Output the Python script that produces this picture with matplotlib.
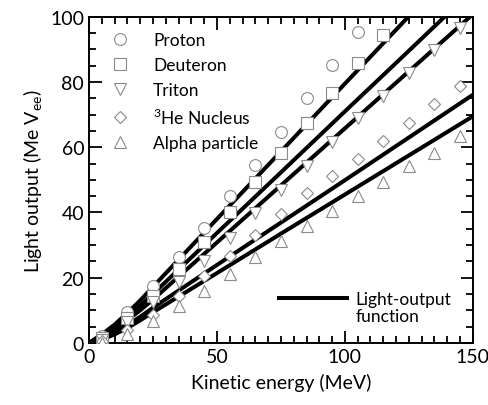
import numpy as np
import matplotlib
matplotlib.use("Agg")
import matplotlib.pyplot as plt
from matplotlib.lines import Line2D
from matplotlib.ticker import MultipleLocator

plt.rcParams['font.family'] = ['Lato', 'DejaVu Sans']
plt.rcParams['mathtext.fontset'] = 'custom'
plt.rcParams['mathtext.rm'] = 'Lato'

# measured light output (MeVee) vs kinetic energy (MeV)
e_proton = [5, 15, 25, 35, 45, 55, 65, 75, 85, 95, 105]
l_proton = [2.2, 9.4, 17.5, 26.2, 35.3, 44.9, 54.5, 64.6, 75.1, 85.3, 95.4]

e_deuteron = [5, 15, 25, 35, 45, 55, 65, 75, 85, 95, 105, 115]
l_deuteron = [1.5, 7.5, 14.5, 22.6, 31.0, 40.0, 49.2, 58.1, 67.5, 76.7, 85.8, 94.5]

e_triton = [5, 15, 25, 35, 45, 55, 65, 75, 85, 95, 105, 115, 125, 135, 145]
l_triton = [1.0, 6.3, 12.4, 18.6, 25.2, 32.3, 39.7, 46.9, 54.2, 61.6, 69.0, 75.6, 82.8, 89.7, 96.5]

e_he3 = [5, 15, 25, 35, 45, 55, 65, 75, 85, 95, 105, 115, 125, 135, 145]
l_he3 = [0.5, 3.8, 8.4, 14.5, 20.6, 26.7, 33.1, 39.4, 45.9, 51.2, 56.3, 61.9, 67.5, 73.4, 78.9]

e_alpha = [5, 15, 25, 35, 45, 55, 65, 75, 85, 95, 105, 115, 125, 135, 145]
l_alpha = [0.0, 2.8, 6.8, 11.4, 16.0, 21.1, 26.2, 31.3, 35.9, 40.5, 45.0, 49.3, 54.2, 58.3, 63.4]

# light-output function curves
e_fit = [0, 5, 10, 15, 20, 25, 50, 75, 100, 125, 150]
fit_proton = [0, 2.6, 5.6, 9.2, 13.0, 17.2, 38.0, 58.7, 79.5, 100.2, 121.0]
fit_deuteron = [0, 2.2, 4.9, 8.0, 11.4, 15.0, 33.7, 52.3, 71.0, 89.6, 108.3]
fit_triton = [0, 1.8, 4.2, 7.0, 10.0, 13.3, 30.8, 48.3, 65.8, 83.3, 100.8]
fit_he3 = [0, 1.3, 3.2, 5.5, 8.0, 10.8, 23.9, 36.9, 49.9, 63.0, 76.1]
fit_alpha = [0, 1.0, 2.6, 4.6, 6.9, 9.4, 21.4, 33.5, 45.5, 57.5, 69.5]

fig = plt.figure(figsize=(4.89, 4.06), dpi=100)
ax = fig.add_axes([0.182, 0.153, 0.785, 0.803])

for f in [fit_proton, fit_deuteron, fit_triton, fit_he3, fit_alpha]:
    ax.plot(e_fit, f, color='black', lw=2.9, solid_capstyle='butt', zorder=2)

gray = '#8a8a8a'
series = [
    (e_proton, l_proton, 'o', 'Proton', 8.5),
    (e_deuteron, l_deuteron, 's', 'Deuteron', 8.5),
    (e_triton, l_triton, 'v', 'Triton', 9),
    (e_he3, l_he3, 'D', '$^3$He Nucleus', 6.5),
    (e_alpha, l_alpha, '^', 'Alpha particle', 9),
]
handles = []
for x, y, m, lab, ms in series:
    h, = ax.plot(x, y, ls='none', marker=m, ms=ms, mfc='white', mec=gray,
                 mew=0.8, label=lab, zorder=3)
    handles.append(h)

ax.set_xlim(0, 150)
ax.set_ylim(0, 100)
ax.xaxis.set_major_locator(MultipleLocator(50))
ax.xaxis.set_minor_locator(MultipleLocator(5))
ax.yaxis.set_major_locator(MultipleLocator(20))
ax.yaxis.set_minor_locator(MultipleLocator(5))
ax.tick_params(which='both', direction='in', top=True, right=True, width=1.3,
               labelsize=14)
ax.tick_params(which='major', length=9)
ax.tick_params(which='minor', length=5)
for s in ax.spines.values():
    s.set_linewidth(1.4)

ax.set_xlabel('Kinetic energy (MeV)', fontsize=14, labelpad=6)
ax.set_ylabel('Light output (Me V$_{\\mathrm{ee}}$)', fontsize=14, labelpad=4)

leg1 = ax.legend(handles=handles, loc='upper left', frameon=False,
                 fontsize=12.5, handletextpad=0.9, labelspacing=0.5,
                 borderaxespad=0.4, bbox_to_anchor=(0.0, 0.995))
ax.add_artist(leg1)
line_h = Line2D([], [], color='black', lw=2.9)
blank_h = Line2D([], [], color='none')
ax.legend(handles=[line_h, blank_h], labels=['Light-output', 'function'],
          loc='lower right', frameon=False, fontsize=12.5, handlelength=3.9,
          handletextpad=0.5, labelspacing=0.05, borderaxespad=0.5,
          bbox_to_anchor=(0.985, 0.01))

fig.savefig('out.png', dpi=100)
